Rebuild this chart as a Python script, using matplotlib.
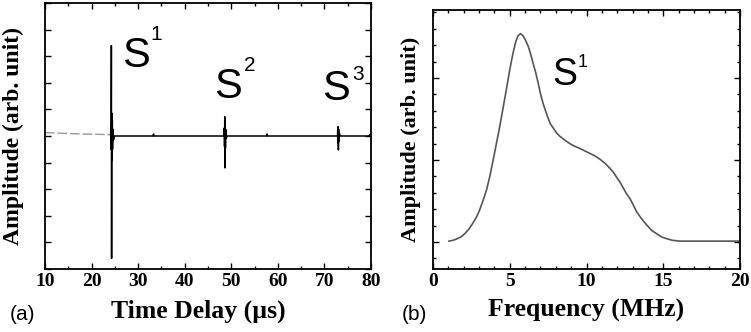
import matplotlib
matplotlib.use("Agg")
import matplotlib.pyplot as plt
from matplotlib.ticker import MultipleLocator, NullFormatter

# (a) time trace (us, arb. unit)
pre_time = [10, 14, 18, 22, 24.1]
pre_amp = [0.025, 0.02, 0.015, 0.012, 0.01]

trace_time = [24.1, 24.15, 24.2, 24.25, 24.3, 24.35, 24.4, 24.45, 24.5, 24.6, 24.7, 24.9,
              33.2, 33.3, 33.4,
              48.4, 48.5, 48.55, 48.6, 48.65, 48.7, 48.75, 48.8, 48.9, 49.1,
              57.6, 57.7, 57.8,
              72.8, 72.85, 72.9, 72.95, 73.0, 73.05, 73.1, 73.2, 73.4,
              79.6, 79.7, 80]
trace_amp = [0.01, 0.08, -0.1, 0.68, -0.92, 0.17, -0.18, 0.12, -0.1, 0.05, -0.03, 0.0,
             0.0, 0.015, 0.0,
             0.0, 0.06, -0.08, 0.145, -0.24, 0.1, -0.09, 0.05, -0.02, 0.0,
             0.0, 0.015, 0.0,
             0.0, 0.04, -0.05, 0.07, -0.105, 0.05, -0.04, 0.02, 0.0,
             0.0, 0.01, 0.0]

# (b) spectrum of S1 (MHz, arb. unit)
freq = [1.04, 1.3, 1.52, 1.8, 2.07, 2.35, 2.6, 2.85, 3.04, 3.25, 3.48, 3.7, 3.91, 4.13,
        4.35, 4.56, 4.78, 5.0, 5.22, 5.4, 5.55, 5.7, 5.85, 6.0, 6.2, 6.35, 6.52, 6.7,
        6.85, 7.0, 7.17, 7.35, 7.5, 7.65, 7.83, 8.05, 8.26, 8.6, 8.91, 9.2, 9.57, 9.9,
        10.22, 10.55, 10.87, 11.2, 11.52, 11.75, 11.96, 12.18, 12.39, 12.6, 12.83, 13.05,
        13.26, 13.6, 13.91, 14.25, 14.57, 14.9, 15.22, 15.6, 16.09, 20.0]
spec = [0.01, 0.02, 0.035, 0.06, 0.10, 0.16, 0.23, 0.31, 0.39, 0.50, 0.63, 0.80, 0.99, 1.20,
        1.41, 1.63, 1.86, 2.10, 2.31, 2.45, 2.52, 2.54, 2.52, 2.47, 2.39, 2.30, 2.18, 2.06,
        1.94, 1.81, 1.69, 1.59, 1.51, 1.44, 1.39, 1.33, 1.29, 1.24, 1.20, 1.17, 1.14, 1.11,
        1.08, 1.05, 1.01, 0.96, 0.90, 0.85, 0.79, 0.73, 0.66, 0.59, 0.53, 0.45,
        0.37, 0.28, 0.21, 0.14, 0.10, 0.06, 0.04, 0.02, 0.01, 0.01]

serif_b = dict(family="Liberation Serif", weight="bold")
sans = dict(family="Liberation Sans")

fig = plt.figure(figsize=(7.51, 3.32), dpi=100)
ax1 = fig.add_axes([45/751, 63/332, 326/751, 266/332])
ax2 = fig.add_axes([433/751, 63/332, 307/751, 259/332])

for ax in (ax1, ax2):
    for s in ax.spines.values():
        s.set_linewidth(1.3)
    ax.tick_params(which="both", direction="in", top=True, right=True, width=1.0)
    ax.tick_params(which="major", length=4.5)
    ax.tick_params(which="minor", length=2.5)
    ax.yaxis.set_major_formatter(NullFormatter())

# panel (a)
ax1.plot(pre_time, pre_amp, color="#999999", lw=1.0, dashes=(7, 2))
ax1.plot(trace_time, trace_amp, color="black", lw=1.1)
ax1.set_xlim(10, 80)
ax1.set_ylim(-1, 1)
ax1.xaxis.set_major_locator(MultipleLocator(10))
ax1.xaxis.set_minor_locator(MultipleLocator(5))
ax1.yaxis.set_major_locator(MultipleLocator(0.2))
ax1.set_xlabel("Time Delay (\u00b5s)", fontsize=18.5, **serif_b)
ax1.xaxis.set_label_coords(0.47, -0.115, transform=ax1.transAxes)
ax1.set_ylabel("Amplitude (arb. unit)", fontsize=17, **serif_b)
ax1.yaxis.set_label_coords(-0.065, 0.5)

# echo labels: S plus a small index placed up and to the right
ax1.text(26.6, 0.52, "S", fontsize=30, **sans)
ax1.text(32.6, 0.72, "1", fontsize=15, **sans)
ax1.text(46.3, 0.286, "S", fontsize=30, **sans)
ax1.text(52.8, 0.49, "2", fontsize=15, **sans)
ax1.text(69.5, 0.27, "S", fontsize=30, **sans)
ax1.text(76.0, 0.42, "3", fontsize=15, **sans)

# panel (b)
ax2.plot(freq, spec, color="#555555", lw=1.2)
ax2.set_xlim(0, 20)
ax2.set_ylim(-0.33, 2.83)
ax2.xaxis.set_major_locator(MultipleLocator(5))
ax2.xaxis.set_minor_locator(MultipleLocator(1))
ax2.yaxis.set_major_locator(MultipleLocator(1))
ax2.yaxis.set_minor_locator(MultipleLocator(0.2))
ax2.set_xlabel("Frequency (MHz)", fontsize=18.5, **serif_b)
ax2.xaxis.set_label_coords(0.5, -0.115, transform=ax2.transAxes)
ax2.set_ylabel("Amplitude (arb. unit)", fontsize=16, **serif_b)
ax2.yaxis.set_label_coords(-0.04, 0.5)

ax2.text(7.75, 1.91, "S", fontsize=27, **sans)
ax2.text(9.45, 2.14, "1", fontsize=13, **sans)

for ax in (ax1, ax2):
    ax.tick_params(axis="x", pad=3)
    for lab in ax.get_xticklabels():
        lab.set_fontfamily("Liberation Serif")
        lab.set_fontweight("bold")
        lab.set_fontsize(14)
    ax.xaxis.label.set_va("top")

fig.text(10/751, 1 - 314/332, "(a)", fontsize=15, va="center", ha="left", **sans)
fig.text(402/751, 1 - 314/332, "(b)", fontsize=15, va="center", ha="left", **sans)

fig.savefig("out.png", dpi=100)
